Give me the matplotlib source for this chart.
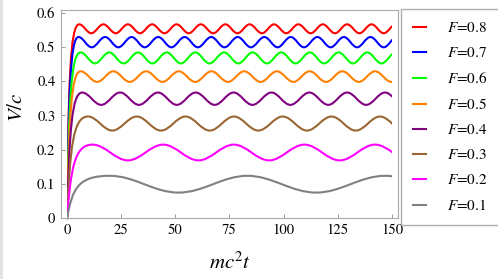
import matplotlib
matplotlib.use("Agg")
import matplotlib.pyplot as plt
from matplotlib.path import Path
from matplotlib.patches import PathPatch, Rectangle
from matplotlib.lines import Line2D

plt.rcParams["font.family"] = ["STIXGeneral", "DejaVu Sans"]
plt.rcParams["mathtext.fontset"] = "stix"

# forces, top curve first
forces = [0.8, 0.7, 0.6, 0.5, 0.4, 0.3, 0.2, 0.1]

# times of the alternating maxima / minima (first one is a maximum)
t_ext_08 = [5.6, 11.2, 16.8, 22.5, 28.1, 33.7, 39.3, 45.0, 50.6, 56.2, 61.8, 67.5, 73.1, 78.7,
            84.3, 90.0, 95.6, 101.2, 106.8, 112.5, 118.1, 123.7, 129.3, 135.0, 140.6, 146.2, 151.8]
t_ext_07 = [5.3, 11.4, 17.6, 23.7, 29.8, 35.9, 42.1, 48.2, 54.3, 60.4, 66.6, 72.7, 78.8,
            84.9, 91.1, 97.2, 103.3, 109.4, 115.6, 121.7, 127.8, 133.9, 140.1, 146.2, 152.3]
t_ext_06 = [6.3, 12.9, 19.5, 26.1, 32.8, 39.4, 46.0, 52.6, 59.2, 65.8, 72.5, 79.1,
            85.7, 92.3, 98.9, 105.5, 112.1, 118.7, 125.4, 132.0, 138.6, 145.2, 151.8]
t_ext_05 = [6.3, 13.9, 21.4, 29.0, 36.5, 44.1, 51.6, 59.2, 66.7, 74.3, 81.8,
            89.4, 96.9, 104.5, 112.0, 119.6, 127.1, 134.7, 142.2, 149.8, 157.3]
t_ext_04 = [7.0, 15.8, 24.5, 33.2, 42.0, 50.7, 59.4, 68.2, 76.9, 85.6,
            94.4, 103.1, 111.9, 120.6, 129.3, 138.1, 146.8, 155.5]
t_ext_03 = [9.7, 20.9, 32.2, 43.4, 54.7, 65.9, 77.1, 88.3, 99.6, 110.8, 122.1, 133.3, 144.5, 155.7]
t_ext_02 = [11.8, 28.1, 44.4, 60.7, 77.0, 93.3, 109.6, 125.9, 142.2, 158.5]
t_ext_01 = [19.8, 51.5, 83.3, 115.0, 146.8, 178.5]
t_ext = [t_ext_08, t_ext_07, t_ext_06, t_ext_05, t_ext_04, t_ext_03, t_ext_02, t_ext_01]

v_hi = [0.566, 0.529, 0.484, 0.429, 0.367, 0.297, 0.215, 0.124]
v_lo = [0.540, 0.499, 0.452, 0.398, 0.331, 0.256, 0.169, 0.075]
# time scale of the initial rise
t_rise = [1.0, 1.1, 1.25, 1.4, 1.6, 2.0, 2.6, 3.6]
t_end = 150

xticks = [0, 25, 50, 75, 100, 125, 150]
yticks = [0, 0.1, 0.2, 0.3, 0.4, 0.5, 0.6]
ytick_labels = ["0", "0.1", "0.2", "0.3", "0.4", "0.5", "0.6"]

colors = ["#ff0000", "#0000ff", "#00ff00", "#ff8000", "#800080", "#996633", "#ff00ff", "#808080"]


def curve_path(times, hi, lo, tau):
    # smooth path through the extrema, flat at each max/min
    c = 0.3634
    vals = [hi if i % 2 == 0 else lo for i in range(len(times))]
    verts = [(0, 0), (0.7 * tau, 0.7 * hi), (1.4 * tau, hi), (times[0], hi)]
    codes = [Path.MOVETO, Path.CURVE4, Path.CURVE4, Path.CURVE4]
    for i in range(1, len(times)):
        d = times[i] - times[i - 1]
        verts += [(times[i - 1] + c * d, vals[i - 1]), (times[i] - c * d, vals[i]), (times[i], vals[i])]
        codes += [Path.CURVE4] * 3
    return Path(verts, codes)


fig = plt.figure(figsize=(4.98, 2.79), dpi=100)
fig.add_artist(Rectangle((0, 0), 3 / 498, 1, transform=fig.transFigure, color="#e2e2e2", lw=0))
ax = fig.add_axes([0.1225, 0.2176, 0.6767, 0.748])

handles = []
for f, times, hi, lo, tau, col in zip(forces, t_ext, v_hi, v_lo, t_rise, colors):
    patch = PathPatch(curve_path(times, hi, lo, tau), fill=False, edgecolor=col, lw=1.5,
                      capstyle="round", joinstyle="round")
    ax.add_patch(patch)
    clip = Rectangle((0, -1), t_end, 3, transform=ax.transData)
    patch.set_clip_path(clip)
    handles.append(Line2D([], [], color=col, lw=1.5, label=r"$F$=%.1f" % f))

ax.set_xlim(-2.77, 152.8)
ax.set_ylim(0, 0.609)
ax.set_xticks(xticks)
ax.set_yticks(yticks, ytick_labels)
ax.tick_params(direction="in", length=3, width=0.7, color="#999999", labelsize=10.5, pad=4)
for s in ax.spines.values():
    s.set_color("#aaaaaa")
    s.set_linewidth(0.8)

ax.set_xlabel(r"$mc^2t$", fontsize=15)
ax.xaxis.set_label_coords(0.5, -0.165)
ax.set_ylabel(r"$V/c$", fontsize=15)
ax.yaxis.set_label_coords(-0.10, 0.53)

leg = fig.legend(handles=handles, loc="upper left", bbox_to_anchor=(401 / 498, 1 - 9 / 279),
                 fontsize=11, frameon=True, fancybox=False, handlelength=0.85, handletextpad=1.35,
                 labelspacing=0.72, borderpad=0.8, borderaxespad=0)
leg.get_frame().set_edgecolor("#999999")
leg.get_frame().set_linewidth(1.0)

fig.savefig("out.png", dpi=100)
